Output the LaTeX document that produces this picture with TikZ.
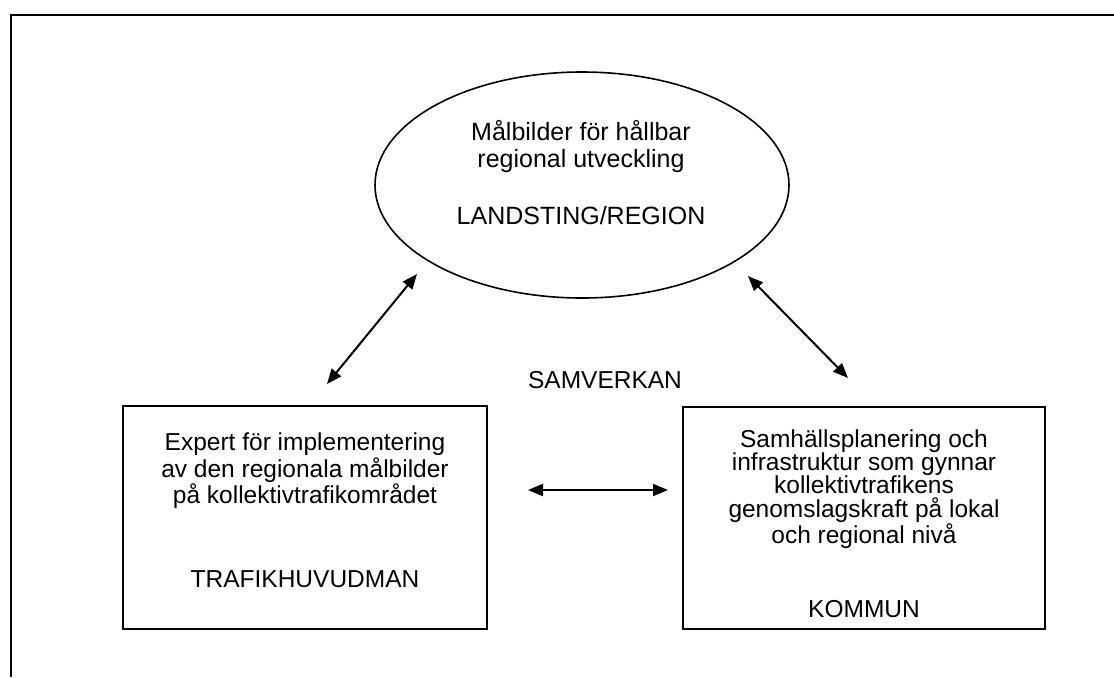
\documentclass[tikz,border=0pt]{standalone}
\usepackage{fontspec}
\setmainfont{Liberation Sans}
\usetikzlibrary{arrows.meta,shapes.geometric}
\begin{document}
\begin{tikzpicture}[x=0.5pt,y=-0.5pt,
  frameline/.style={line width=1pt},
  boxshape/.style={draw,line width=0.8pt,inner sep=0pt},
  txt/.style={inner sep=0pt,align=center,font=\fontsize{12.25}{11.65}\selectfont},
  etxt/.style={inner sep=0pt,align=center,font=\fontsize{12.5}{13.5}\selectfont},
  link/.style={line width=1pt,{Triangle[length=7.5pt,width=6pt]}-{Triangle[length=7.5pt,width=6pt]}}]
\useasboundingbox (0,0) rectangle (1114,677);
\draw[frameline] (1114,15) -- (11,15) -- (11,677);

\node[draw,ellipse,line width=0.8pt,minimum width=207pt,minimum height=113pt,inner sep=0pt] (reg) at (582,185) {};
\node[etxt,anchor=north] (regtxt) at (581,120) {Målbilder för hållbar\\regional utveckling};
\node[etxt,anchor=base] (regrole) at (581,224) {LANDSTING/REGION};

\node[boxshape,minimum width=182pt,minimum height=111.5pt] (thm) at (305,517.5) {};
\node[txt,anchor=north] (thmtxt) at (305,432) {Expert för implementering\\av den regionala målbilder\\på kollektivtrafikområdet};
\node[txt,anchor=base] (thmrole) at (305,587) {TRAFIKHUVUDMAN};

\node[boxshape,minimum width=181pt,minimum height=111pt] (kom) at (864,518) {};
\node[txt,anchor=north] (komtxt) at (864,429) {Samhällsplanering och\\infrastruktur som gynnar\\kollektivtrafikens\\genomslagskraft på lokal\\och regional nivå};
\node[txt,anchor=base] (komrole) at (864,617) {KOMMUN};

\node[txt,anchor=base] (samv) at (605,388) {SAMVERKAN};

\coordinate (a1) at (327,384);
\coordinate (a2) at (417,274);
\coordinate (b1) at (748,276);
\coordinate (b2) at (848,378);
\coordinate (c1) at (528,490);
\coordinate (c2) at (668,490);
\draw[link] (a1) -- (a2);
\draw[link] (b1) -- (b2);
\draw[link] (c1) -- (c2);
\end{tikzpicture}
\end{document}
